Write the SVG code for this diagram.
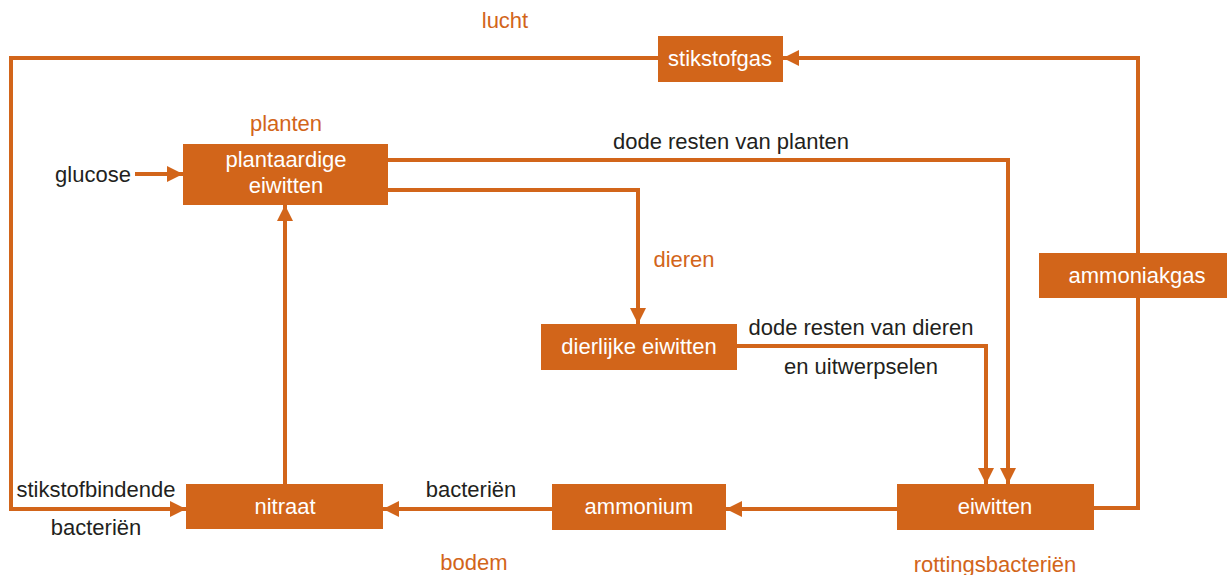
<svg xmlns="http://www.w3.org/2000/svg" width="1227" height="575" viewBox="0 0 1227 575">
<style>
.box{fill:#D2651A}
.bt{fill:#fff;font-family:"Liberation Sans",Arial,sans-serif;font-size:22px;text-anchor:middle}
.lb{fill:#231F20;font-family:"Liberation Sans",Arial,sans-serif;font-size:22px;text-anchor:middle}
.ol{fill:#D2651A;font-family:"Liberation Sans",Arial,sans-serif;font-size:22px;text-anchor:middle}
.c{fill:none;stroke:#D2651A;stroke-width:4}
</style>
<defs>
<marker id="ah" markerUnits="userSpaceOnUse" markerWidth="16" markerHeight="16" refX="16" refY="8" orient="auto">
<path d="M0,0 L16,8 L0,16 z" fill="#D2651A"/>
</marker>
</defs>
<rect width="1227" height="575" fill="#fff"/>
<g id="connectors">
<path class="c" d="M135,174 H183" marker-end="url(#ah)"/>
<path class="c" d="M388,160 H1008 V484" marker-end="url(#ah)"/>
<path class="c" d="M388,190 H638 V324" marker-end="url(#ah)"/>
<path class="c" d="M737,346 H986 V484" marker-end="url(#ah)"/>
<path class="c" d="M897,509 H726" marker-end="url(#ah)"/>
<path class="c" d="M552,509 H383" marker-end="url(#ah)"/>
<path class="c" d="M285,484 V205" marker-end="url(#ah)"/>
<path class="c" d="M1093,508 H1138 V58 H783" marker-end="url(#ah)"/>
<path class="c" d="M658,58 H11 V509 H186" marker-end="url(#ah)"/>
</g>
<g id="stikstofgas"><rect class="box" x="658" y="36" width="125" height="46"/><text class="bt" x="720" y="66">stikstofgas</text></g>
<g id="plantaardige-eiwitten"><rect class="box" x="183" y="144" width="205" height="61"/><text class="bt" x="286" y="167">plantaardige</text><text class="bt" x="286" y="193">eiwitten</text></g>
<g id="ammoniakgas"><rect class="box" x="1039" y="253" width="188" height="45"/><text class="bt" x="1137" y="283">ammoniakgas</text></g>
<g id="dierlijke-eiwitten"><rect class="box" x="541" y="324" width="196" height="46"/><text class="bt" x="639" y="354">dierlijke eiwitten</text></g>
<g id="nitraat"><rect class="box" x="186" y="484" width="197" height="45"/><text class="bt" x="285" y="514">nitraat</text></g>
<g id="ammonium"><rect class="box" x="552" y="484" width="174" height="46"/><text class="bt" x="639" y="514">ammonium</text></g>
<g id="eiwitten"><rect class="box" x="897" y="484" width="197" height="46"/><text class="bt" x="995" y="514">eiwitten</text></g>
<g id="labels">
<text class="ol" x="505" y="28">lucht</text>
<text class="ol" x="286" y="131">planten</text>
<text class="ol" x="684" y="267">dieren</text>
<text class="ol" x="474" y="570">bodem</text>
<text class="ol" x="995" y="572">rottingsbacteriën</text>
<text class="lb" x="731" y="149">dode resten van planten</text>
<text class="lb" x="861" y="335">dode resten van dieren</text>
<text class="lb" x="861" y="374">en uitwerpselen</text>
<text class="lb" x="93" y="182">glucose</text>
<text class="lb" x="96" y="497">stikstofbindende</text>
<text class="lb" x="96" y="535">bacteriën</text>
<text class="lb" x="471" y="497">bacteriën</text>
</g>
</svg>
